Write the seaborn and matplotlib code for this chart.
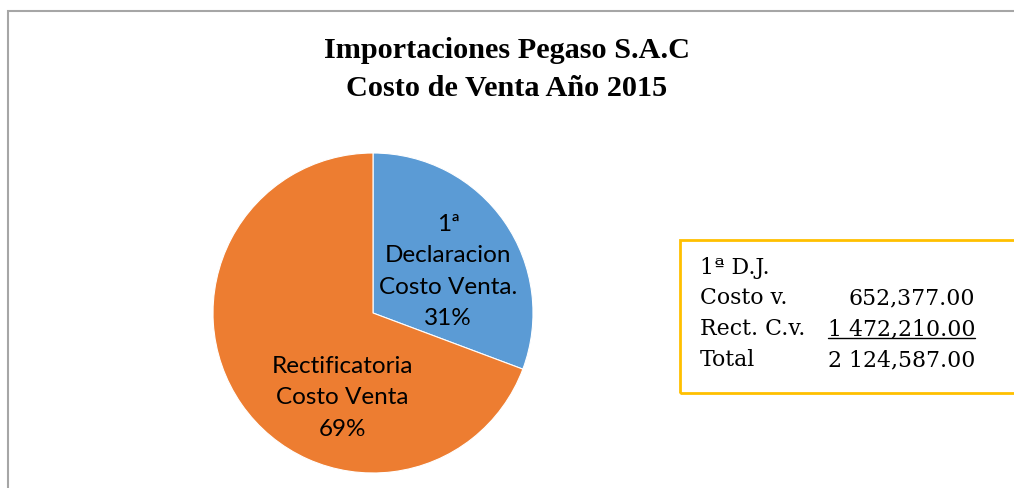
import matplotlib
matplotlib.use('Agg')
import matplotlib.pyplot as plt
from matplotlib.patches import Rectangle
from matplotlib.lines import Line2D
import seaborn as sns

# data
title_lines = ['Importaciones Pegaso S.A.C', 'Costo de Venta Año 2015']
slice_names = ['1ª\nDeclaracion\nCosto Venta.', 'Rectificatoria\nCosto Venta']
slice_values = [652377.00, 1472210.00]
slice_colors = ['#5B9BD5', '#ED7D31']
table_labels = ['1ª D.J.', 'Costo v.', 'Rect. C.v.', 'Total']
table_values = ['', '652,377.00', '1 472,210.00', '2 124,587.00']

sns.set_style('white')
plt.rcParams['font.family'] = ['Lato', 'DejaVu Sans']
plt.rcParams['text.color'] = 'black'

W, H = 1014, 488
fig = plt.figure(figsize=(W / 100, H / 100), dpi=100)
fig.patch.set_facecolor('white')

# outer chart frame (cropped: only left and top visible)
fig.add_artist(Rectangle((8 / W, -0.1), 1.2, (H - 11) / H + 0.1, transform=fig.transFigure,
                         fill=False, edgecolor='#A6A6A6', linewidth=1.5))

fig.text(0.5, 1 - 50 / H, title_lines[0], ha='center', va='center',
         family='Liberation Serif', fontweight='bold', fontsize=21.8)
fig.text(0.5, 1 - 88 / H, title_lines[1], ha='center', va='center',
         family='Liberation Serif', fontweight='bold', fontsize=21.8)

ax = fig.add_axes([213 / W, 15 / H, 320 / W, 320 / H])
wedges, _ = ax.pie(slice_values, colors=slice_colors, startangle=90, counterclock=False,
                   radius=1, wedgeprops=dict(edgecolor='white', linewidth=0.8))
ax.set_xlim(-1, 1)
ax.set_ylim(-1, 1)
ax.set_aspect('equal')
ax.axis('off')

total = sum(slice_values)
label_pos = [(0.47, 0.26), (-0.19, -0.53)]
for name, val, (x, y) in zip(slice_names, slice_values, label_pos):
    pct = round(val / total * 100)
    ax.text(x, y, f'{name}\n{pct}%', ha='center', va='center', fontsize=17.5,
            linespacing=1.6, color='black')

# summary box
fig.add_artist(Rectangle((680 / W, 1 - 393 / H), 0.5, 153 / H, transform=fig.transFigure,
                         fill=False, edgecolor='#FFC000', linewidth=2))
row_y = [268, 298, 329, 360]
fig.canvas.draw()
renderer = fig.canvas.get_renderer()
for i, (lab, val) in enumerate(zip(table_labels, table_values)):
    yy = 1 - row_y[i] / H
    fig.text(700 / W, yy, lab, ha='left', va='center', family='DejaVu Serif', fontsize=15.8)
    if val:
        t = fig.text(975 / W, yy, val, ha='right', va='center', family='DejaVu Serif', fontsize=15.8)
        if i == 2:
            bb = t.get_window_extent(renderer)
            uy = (bb.y0 + 2) / H
            fig.add_artist(Line2D([bb.x0 / W, bb.x1 / W], [uy, uy], transform=fig.transFigure,
                                  color='black', linewidth=1))

fig.savefig('out.png', dpi=100)
